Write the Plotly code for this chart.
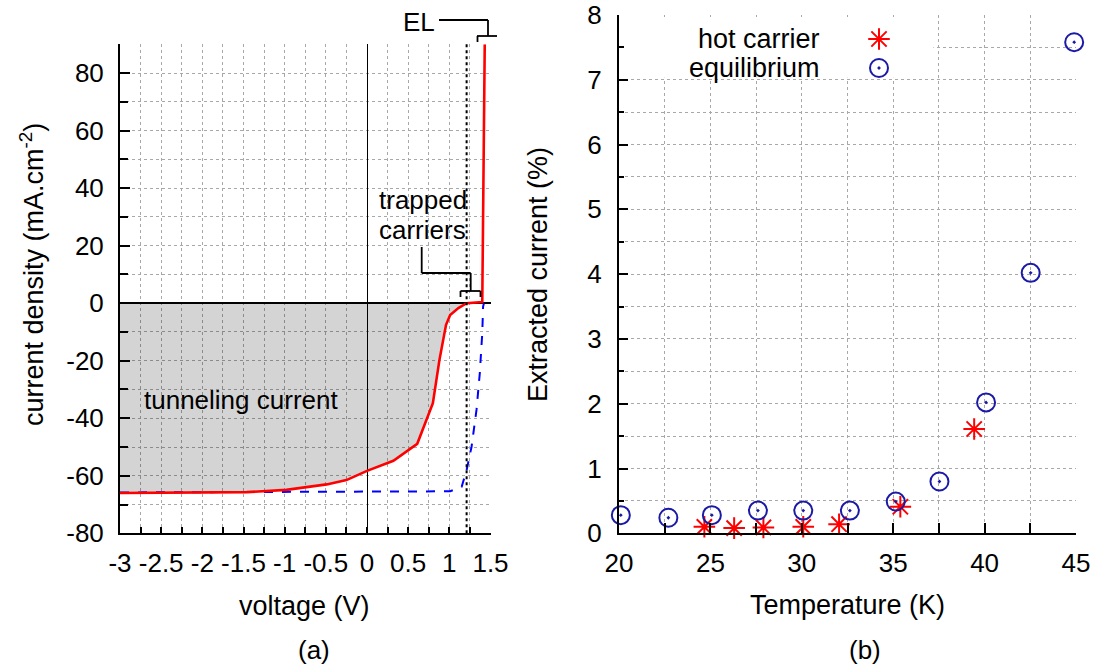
import plotly.graph_objects as go

W, H = 1102, 667

# ---------------- Panel (a): J-V curves ----------------
voltage_hot = [-3, -2, -1.46, -0.98, -0.49, -0.25, 0, 0.32, 0.61, 0.80, 0.88, 0.96, 1.01, 1.11, 1.19, 1.21, 1.40, 1.43]
current_hot = [-66, -65.9, -65.7, -64.9, -63.0, -61.5, -58.3, -54.8, -48.9, -34.8, -19.7, -7.5, -4.1, -1.7, -0.2, 0, 0.4, 90]
voltage_eq = [-3, -1.46, 1.01, 1.15, 1.21, 1.27, 1.33, 1.37, 1.40, 1.41, 1.42]
current_eq = [-65.8, -65.7, -65.4, -63.8, -58, -49.9, -37.1, -24.3, -10.4, -1.2, 0]
trap_voltage = 1.21

xa_ticks = [-3, -2.5, -2, -1.5, -1, -0.5, 0, 0.5, 1, 1.5]
xa_labels = ["-3", "-2.5", "-2", "-1.5", "-1", "-0.5", "0", "0.5", "1", "1.5"]
ya_ticks = [-80, -60, -40, -20, 0, 20, 40, 60, 80]
ya_labels = ["-80", "-60", "-40", "-20", "0", "20", "40", "60", "80"]

# ---------------- Panel (b): extracted current ----------------
temp_hot = [24.67, 26.3, 27.9, 30.08, 32.04, 35.39, 39.43]
extracted_hot = [0.10, 0.08, 0.09, 0.10, 0.14, 0.41, 1.61]
temp_eq = [20.1, 22.7, 25.08, 27.6, 30.08, 32.63, 35.14, 37.53, 40.08, 42.52, 44.9]
extracted_eq = [0.28, 0.24, 0.28, 0.35, 0.35, 0.35, 0.49, 0.80, 2.02, 4.02, 7.58]

xb_ticks = [20, 25, 30, 35, 40, 45]
xb_labels = ["20", "25", "30", "35", "40", "45"]
yb_ticks = [0, 1, 2, 3, 4, 5, 6, 7, 8]
yb_labels = ["0", "1", "2", "3", "4", "5", "6", "7", "8"]

FONT = "Liberation Sans, Arial, Helvetica, sans-serif"
FS = 26
FT = 27
RED = "#ff0000"
BLUE_D = "#0000ff"
BLUE_M = "#1a1aa6"
GRID = "#a8a8a8"


def px(x):
    return x / W


def py(y):
    return 1 - y / H


fig = go.Figure()

# gray fill (tunneling current) between 0 and the hot-carrier curve
fill_v = [v for v in voltage_hot if v <= trap_voltage]
fill_j = [j for v, j in zip(voltage_hot, current_hot) if v <= trap_voltage]
fig.add_trace(go.Scatter(x=fill_v, y=fill_j, mode="lines", fill="tozeroy",
                         fillcolor="rgba(0,0,0,0.17)", line=dict(width=0),
                         hoverinfo="skip", showlegend=False, xaxis="x", yaxis="y"))
fig.add_trace(go.Scatter(x=voltage_eq, y=current_eq, mode="lines",
                         line=dict(color=BLUE_D, width=2, dash="dash"),
                         showlegend=False, xaxis="x", yaxis="y"))
fig.add_trace(go.Scatter(x=voltage_hot, y=current_hot, mode="lines",
                         line=dict(color=RED, width=2.6),
                         showlegend=False, xaxis="x", yaxis="y"))

# panel (b) markers
MS = 18
fig.add_trace(go.Scatter(x=temp_hot, y=extracted_hot, mode="markers",
                         marker=dict(symbol="asterisk-open", size=MS, color=RED,
                                     line=dict(color=RED, width=2)),
                         cliponaxis=False, showlegend=False, xaxis="x2", yaxis="y2"))
fig.add_trace(go.Scatter(x=temp_eq, y=extracted_eq, mode="markers",
                         marker=dict(symbol="circle-open-dot", size=MS, color=BLUE_M,
                                     line=dict(color=BLUE_M, width=2)),
                         cliponaxis=False, showlegend=False, xaxis="x2", yaxis="y2"))

# manual legend keys (pixel overlay axes)
fig.add_trace(go.Scatter(x=[879], y=[39], mode="markers",
                         marker=dict(symbol="asterisk-open", size=MS, color=RED,
                                     line=dict(color=RED, width=2)),
                         cliponaxis=False, showlegend=False, xaxis="x3", yaxis="y3"))
fig.add_trace(go.Scatter(x=[879], y=[68], mode="markers",
                         marker=dict(symbol="circle-open-dot", size=MS, color=BLUE_M,
                                     line=dict(color=BLUE_M, width=2)),
                         cliponaxis=False, showlegend=False, xaxis="x3", yaxis="y3"))

common = dict(showline=True, linecolor="black", linewidth=2, mirror=False,
              ticks="inside", tickcolor="black", tickwidth=1.5,
              showgrid=True, gridcolor=GRID, griddash="dot", gridwidth=1,
              tickfont=dict(family=FONT, size=FS, color="black"),
              tickangle=0, automargin=False, fixedrange=True)

fig.update_layout(
    width=W, height=H,
    margin=dict(l=0, r=0, t=0, b=0),
    paper_bgcolor="white", plot_bgcolor="rgba(0,0,0,0)",
    template="none",
    showlegend=False,
    font=dict(family=FONT, size=FS, color="black"),
    xaxis=dict(common, domain=[px(120), px(490.5)], range=[-3, 1.5],
               tickmode="array", tickvals=xa_ticks, ticktext=xa_labels,
               ticklen=6, ticklabelstandoff=5,
               zeroline=True, zerolinecolor="black", zerolinewidth=1.3,
               minor=dict(dtick=0.25, ticks="inside", ticklen=6, tickcolor="black",
                          showgrid=True, gridcolor=GRID, griddash="dot", gridwidth=1),
               anchor="y"),
    yaxis=dict(common, domain=[py(533.3), py(44.3)], range=[-80, 90],
               tickmode="array", tickvals=ya_ticks, ticktext=ya_labels,
               ticklen=10, ticklabelstandoff=9,
               zeroline=True, zerolinecolor="black", zerolinewidth=2,
               minor=dict(dtick=10, ticks="inside", ticklen=8, tickcolor="black",
                          showgrid=True, gridcolor=GRID, griddash="dot", gridwidth=1),
               anchor="x"),
    xaxis2=dict(common, domain=[px(619), px(1076)], range=[20, 45],
                tickmode="array", tickvals=xb_ticks, ticktext=xb_labels,
                ticklen=10, ticklabelstandoff=5, zeroline=False,
                minor=dict(dtick=2.5, ticks="inside", ticklen=10, tickcolor="black",
                           showgrid=True, gridcolor=GRID, griddash="dot", gridwidth=1),
                anchor="y2"),
    yaxis2=dict(common, domain=[py(533.3), py(15)], range=[0, 8],
                tickmode="array", tickvals=yb_ticks, ticktext=yb_labels,
                ticklen=9, ticklabelstandoff=10, zeroline=False,
                minor=dict(dtick=0.5, ticks="inside", ticklen=5, tickcolor="black",
                           showgrid=True, gridcolor=GRID, griddash="dot", gridwidth=1),
                anchor="x2"),
    xaxis3=dict(domain=[0, 1], range=[0, W], visible=False, fixedrange=True, anchor="y3"),
    yaxis3=dict(domain=[0, 1], range=[H, 0], visible=False, fixedrange=True, anchor="x3"),
)

shapes = []
# trapped-carrier threshold (dotted vertical)
shapes.append(dict(type="line", xref="x", yref="y domain", x0=trap_voltage, x1=trap_voltage,
                   y0=0, y1=1, line=dict(color="black", width=2, dash="dot"), layer="above"))
# legend opaque box in panel (b)
shapes.append(dict(type="rect", xref="x2", yref="y2", x0=20.05, x1=37.2, y0=7.03, y1=7.97,
                   fillcolor="white", line=dict(width=0), layer="between"))

K = "black"
def seg(x0, y0, x1, y1, w=1.8):
    shapes.append(dict(type="line", xref="paper", yref="paper",
                       x0=px(x0), y0=py(y0), x1=px(x1), y1=py(y1),
                       line=dict(color=K, width=w), layer="above"))

# EL bracket
seg(439, 20, 488, 20)
seg(488, 20, 488, 36)
seg(477, 36, 497, 36)
seg(477.5, 36, 477.5, 42)
# trapped carriers bracket
seg(421.7, 247, 421.7, 273)
seg(421.7, 273, 470.7, 273)
seg(470.7, 273, 470.7, 291)
seg(460.5, 291, 480.5, 291)
seg(460.5, 291, 460.5, 297)
seg(480.5, 291, 480.5, 297)
fig.update_layout(shapes=shapes)

ann = []
def text(t, x, y, xanchor="center", angle=0, size=FS):
    ann.append(dict(text=t, xref="paper", yref="paper", x=px(x), y=py(y),
                    xanchor=xanchor, yanchor="middle", showarrow=False,
                    textangle=angle, font=dict(family=FONT, size=size, color="black")))

text("EL", 419, 22)
text("trapped", 377, 200, xanchor="left")
text("carriers", 377, 230, xanchor="left")
text("tunneling current", 241, 400)
text("voltage (V)", 304, 606, size=FT)
text("(a)", 314, 650)
text("current density (mA.cm<sup>-2</sup>)", 32, 275, angle=-90, size=FT)
text("Temperature (K)", 847, 605, size=FT)
text("(b)", 865, 650)
text("Extracted current (%)", 538, 275, angle=-90, size=FT)
text("hot carrier", 822, 39, xanchor="right", size=FT)
text("equilibrium", 822, 68, xanchor="right", size=FT)
fig.update_layout(annotations=ann)

fig.write_html("out.html")
